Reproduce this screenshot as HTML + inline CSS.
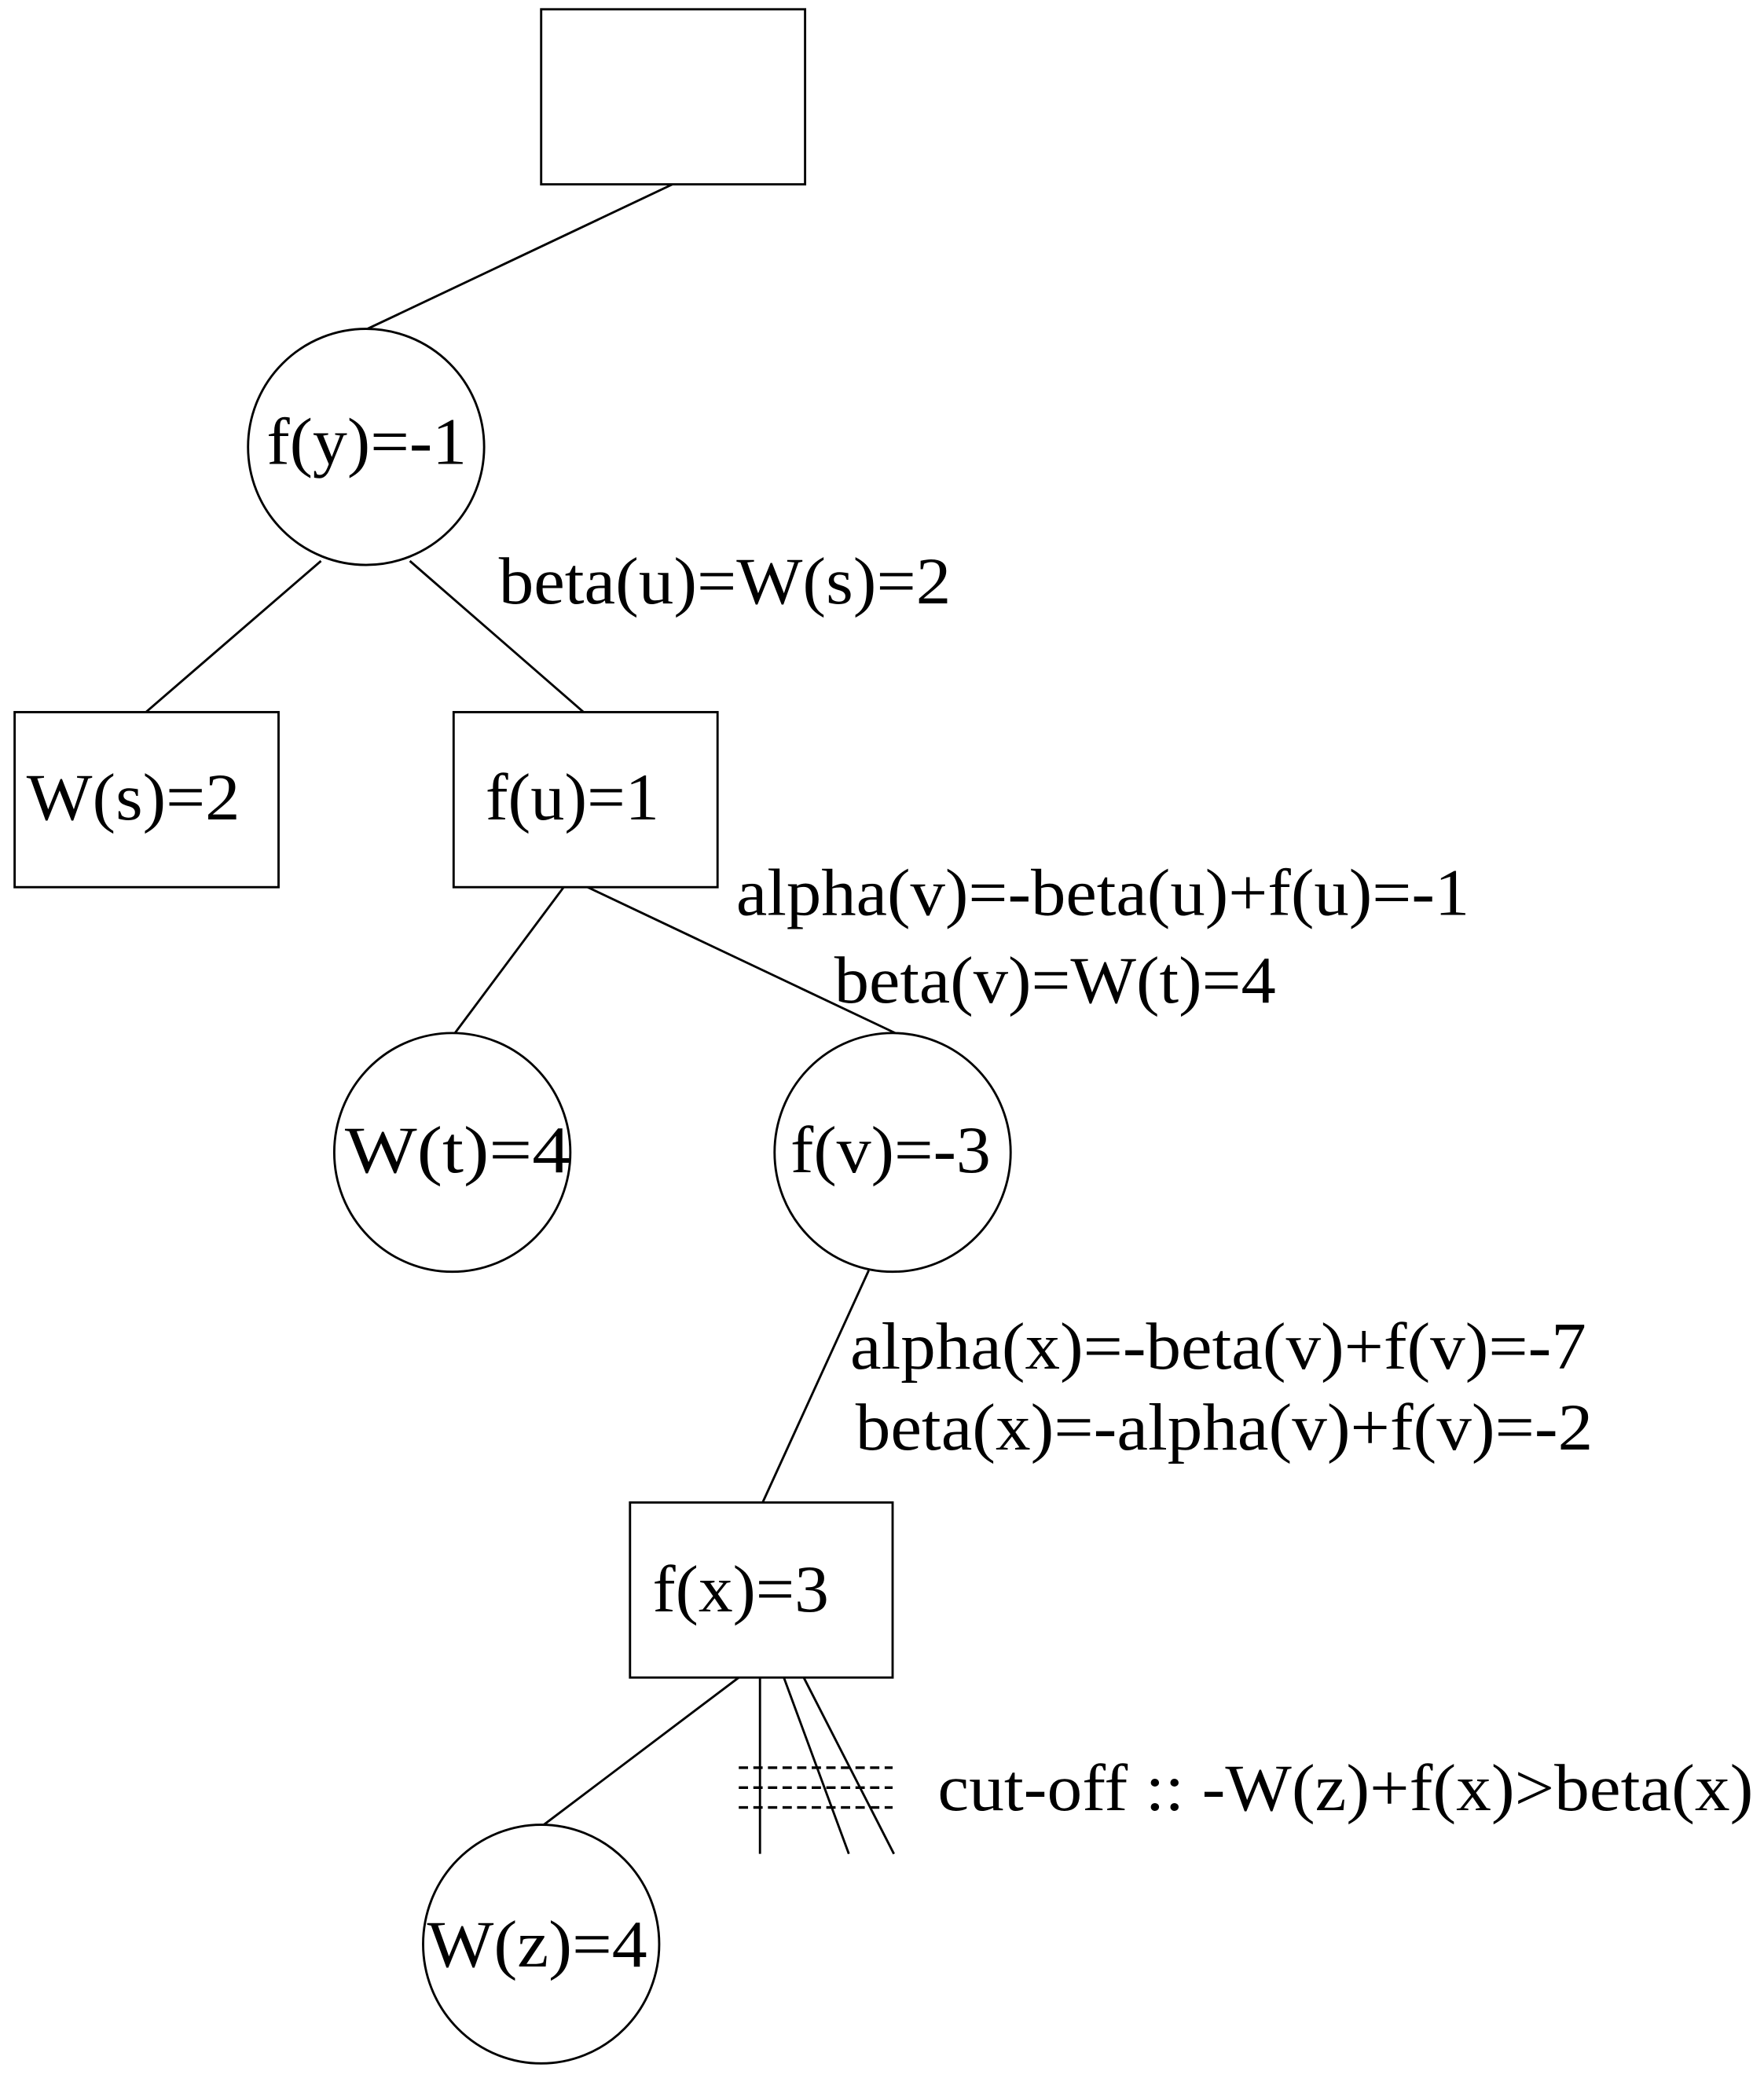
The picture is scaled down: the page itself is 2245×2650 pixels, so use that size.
<!DOCTYPE html>
<html><head><meta charset="utf-8"><style>html,body{margin:0;padding:0;background:#fff}svg{display:block}</style></head>
<body>
<svg width="2245" height="2650" viewBox="0 0 1330 1570" xmlns="http://www.w3.org/2000/svg">
<g fill="none" stroke="#000" stroke-width="1.7">
<rect x="408" y="7" width="199" height="132"/>
<line x1="507" y1="139" x2="277" y2="248"/>
<circle cx="276" cy="337" r="89"/>
<line x1="242" y1="423" x2="110" y2="537"/>
<line x1="309" y1="423" x2="440" y2="537"/>
<rect x="11" y="537" width="199" height="132"/>
<rect x="342" y="537" width="199" height="132"/>
<line x1="425" y1="669" x2="343" y2="779"/>
<line x1="443" y1="669" x2="675" y2="779"/>
<ellipse cx="341" cy="869" rx="89" ry="90"/>
<ellipse cx="673" cy="869" rx="89" ry="90"/>
<line x1="655" y1="958" x2="575" y2="1133"/>
<rect x="475" y="1133" width="198" height="132"/>
<line x1="557" y1="1265" x2="410" y2="1376"/>
<ellipse cx="408" cy="1466" rx="89" ry="90"/>
<line x1="573" y1="1265" x2="573" y2="1398"/>
<line x1="591" y1="1265" x2="640" y2="1398"/>
<line x1="606" y1="1265" x2="674" y2="1398"/>
<g stroke-dasharray="7,4" stroke-width="2">
<line x1="557" y1="1333" x2="673" y2="1333"/>
<line x1="557" y1="1348" x2="673" y2="1348"/>
<line x1="557" y1="1363" x2="673" y2="1363"/>
</g>
</g>
<g font-family="Liberation Serif, serif" font-size="50" fill="#000" lengthAdjust="spacingAndGlyphs">
<text x="201" y="350" textLength="151" lengthAdjust="spacingAndGlyphs">f(y)=-1</text>
<text x="376" y="455" textLength="341" lengthAdjust="spacingAndGlyphs">beta(u)=W(s)=2</text>
<text x="20" y="618" textLength="161" lengthAdjust="spacingAndGlyphs">W(s)=2</text>
<text x="366" y="618" textLength="131" lengthAdjust="spacingAndGlyphs">f(u)=1</text>
<text x="555" y="690" textLength="553" lengthAdjust="spacingAndGlyphs">alpha(v)=-beta(u)+f(u)=-1</text>
<text x="629" y="756" textLength="333" lengthAdjust="spacingAndGlyphs">beta(v)=W(t)=4</text>
<text x="260" y="884" textLength="170" lengthAdjust="spacingAndGlyphs">W(t)=4</text>
<text x="596" y="884" textLength="151" lengthAdjust="spacingAndGlyphs">f(v)=-3</text>
<text x="641" y="1032" textLength="555" lengthAdjust="spacingAndGlyphs">alpha(x)=-beta(v)+f(v)=-7</text>
<text x="645" y="1093" textLength="556" lengthAdjust="spacingAndGlyphs">beta(x)=-alpha(v)+f(v)=-2</text>
<text x="492" y="1215" textLength="133" lengthAdjust="spacingAndGlyphs">f(x)=3</text>
<text x="707" y="1365" textLength="615" lengthAdjust="spacingAndGlyphs">cut-off :: -W(z)+f(x)&gt;beta(x)</text>
<text x="322" y="1483" textLength="166" lengthAdjust="spacingAndGlyphs">W(z)=4</text>
</g>
</svg>
</body></html>
